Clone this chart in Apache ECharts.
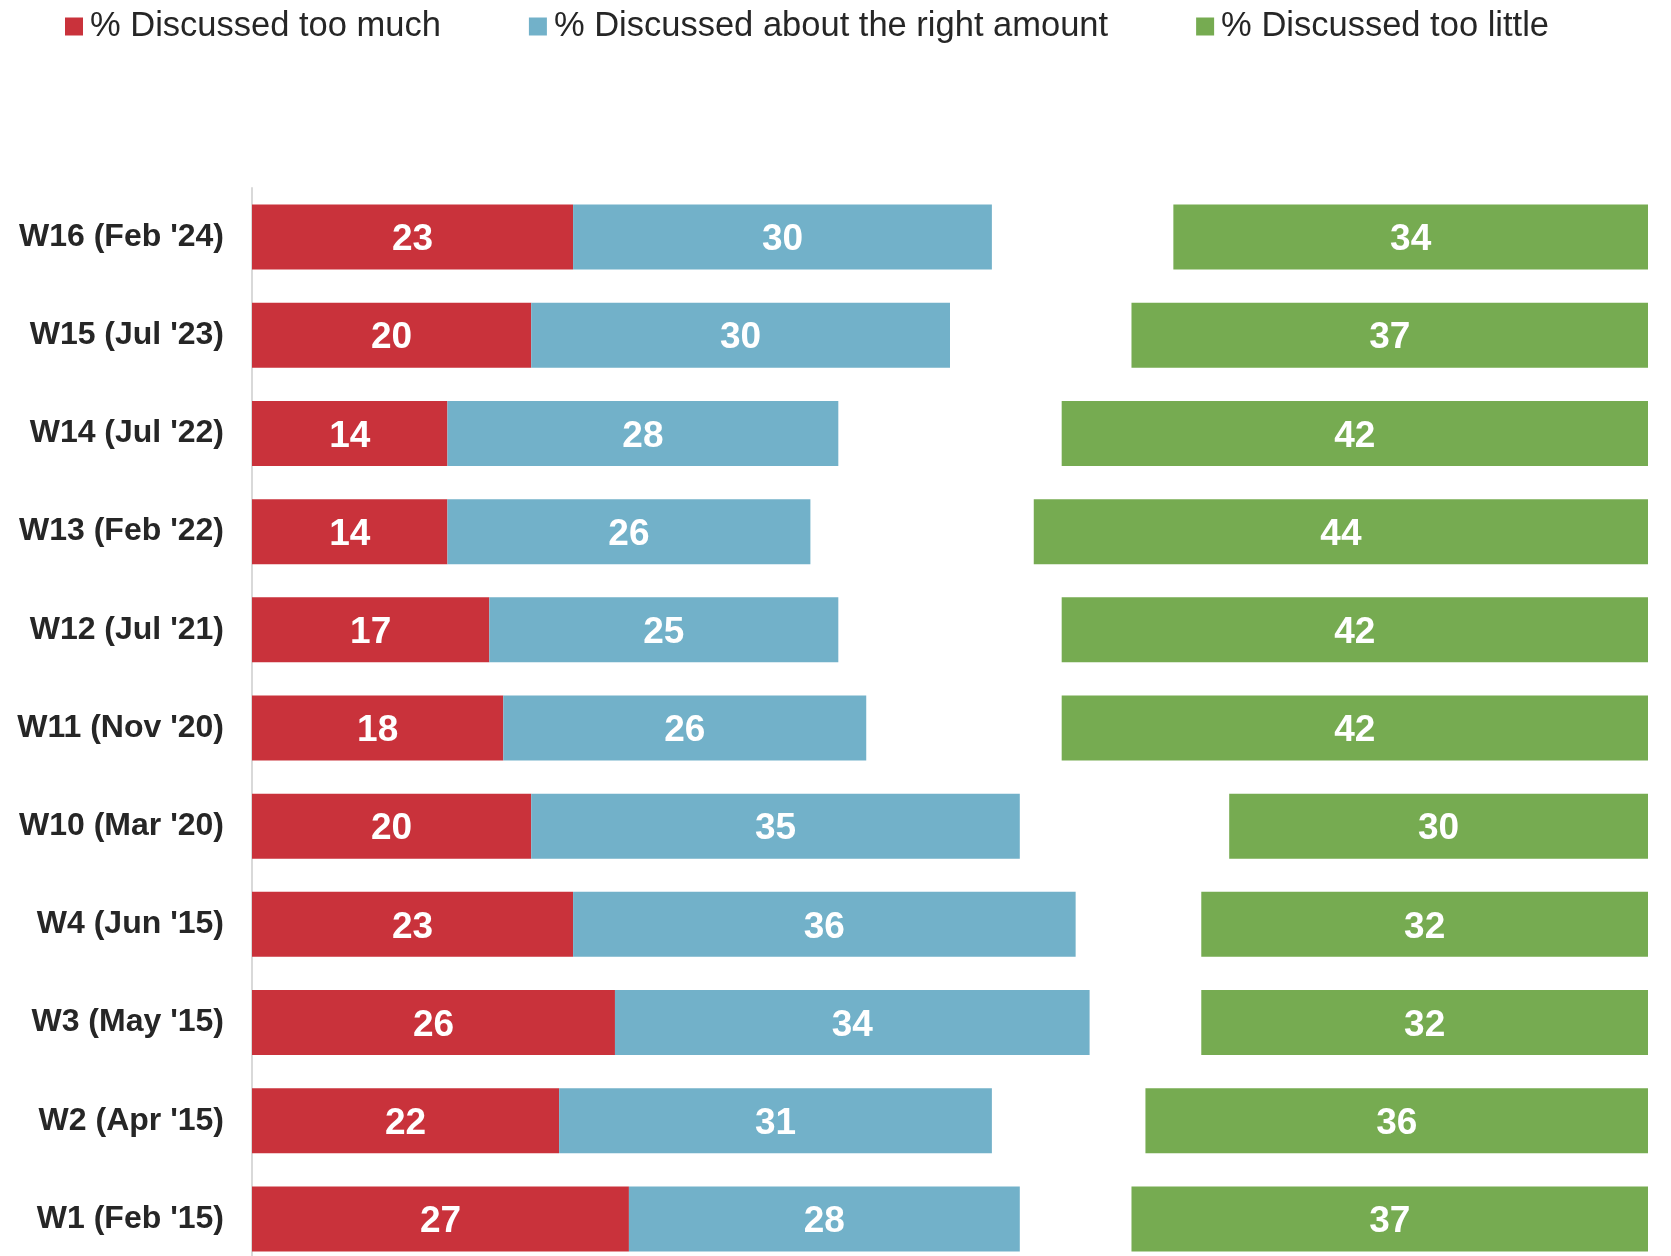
<!DOCTYPE html>
<html>
<head>
<meta charset="utf-8">
<script src="https://cdn.jsdelivr.net/npm/echarts@6/dist/echarts.min.js"></script>
<style>
  html, body { margin: 0; padding: 0; background: #ffffff; }
  #chart { width: 1671px; height: 1256px; }
</style>
</head>
<body>
<div id="chart"></div>
<script>
// Survey waves, listed top to bottom
const waves = ["W16 (Feb '24)", "W15 (Jul '23)", "W14 (Jul '22)", "W13 (Feb '22)", "W12 (Jul '21)",
               "W11 (Nov '20)", "W10 (Mar '20)", "W4 (Jun '15)", "W3 (May '15)", "W2 (Apr '15)", "W1 (Feb '15)"];
const tooMuch     = [23, 20, 14, 14, 17, 18, 20, 23, 26, 22, 27];
const rightAmount = [30, 30, 28, 26, 25, 26, 35, 36, 34, 31, 28];
// Remaining share (no answer) drawn as an invisible gap between the segments
const noAnswer    = [13, 13, 16, 16, 16, 14, 15, 9, 8, 11, 8];
const tooLittle   = [34, 37, 42, 44, 42, 42, 30, 32, 32, 36, 37];

const FONT = "'Liberation Sans', Arial, sans-serif";

const valueLabel = {
  show: true,
  position: 'inside',
  offset: [0, 3],
  color: '#ffffff',
  fontFamily: FONT,
  fontWeight: 'bold',
  fontSize: 37
};

function seg(name, data, color) {
  return {
    name: name,
    type: 'bar',
    stack: 'total',
    data: data,
    barWidth: 65,
    itemStyle: { color: color },
    label: valueLabel,
    emphasis: { disabled: true }
  };
}

const chart = echarts.init(document.getElementById('chart'), null, { renderer: 'canvas' });
chart.setOption({
  animation: false,
  backgroundColor: '#ffffff',
  legend: {
    data: ['% Discussed too much', '% Discussed about the right amount', '% Discussed too little'],
    left: 60,
    top: 4,
    itemWidth: 18,
    itemHeight: 18,
    itemGap: 88,
    icon: 'rect',
    textStyle: { fontFamily: FONT, fontSize: 34.5, color: '#262626', padding: [0, 0, 0, 2] }
  },
  grid: { left: 252, right: 23, top: 188, height: 1080, containLabel: false, outerBoundsMode: 'none' },
  xAxis: {
    type: 'value',
    min: 0,
    max: 100,
    show: false
  },
  yAxis: {
    type: 'category',
    data: waves,
    inverse: true,
    axisLine: { show: true, lineStyle: { color: '#d9d9d9', width: 2 } },
    axisTick: { show: false },
    axisLabel: {
      margin: 28,
      fontFamily: FONT,
      fontWeight: 'bold',
      fontSize: 32,
      color: '#262626',
      padding: [6, 0, 0, 0]
    }
  },
  series: [
    seg('% Discussed too much', tooMuch, '#C9323B'),
    seg('% Discussed about the right amount', rightAmount, '#72B1C9'),
    {
      name: 'No answer',
      type: 'bar',
      stack: 'total',
      data: noAnswer,
      barWidth: 65,
      silent: true,
      itemStyle: { color: 'rgba(0,0,0,0)' },
      label: { show: false }
    },
    seg('% Discussed too little', tooLittle, '#76AB51')
  ]
});
</script>
</body>
</html>
